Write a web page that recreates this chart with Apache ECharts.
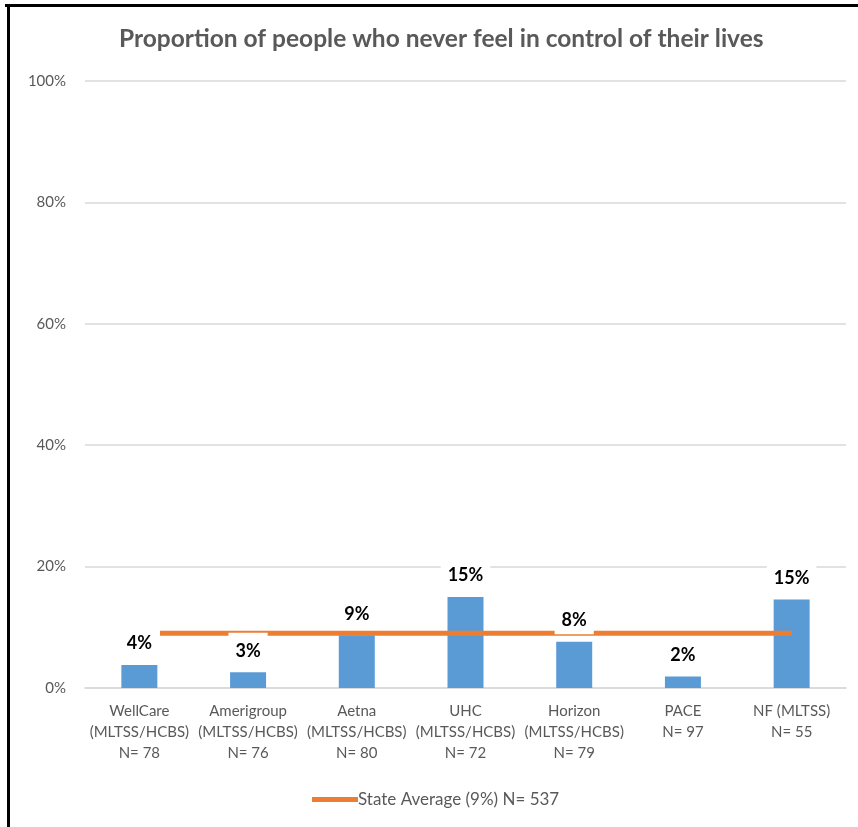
<!DOCTYPE html>
<html>
<head>
<meta charset="utf-8">
<script src="https://cdn.jsdelivr.net/npm/echarts@6/dist/echarts.min.js"></script>
<style>html,body{margin:0;padding:0;background:#fff;}#c{width:858px;height:827px;}</style>
</head>
<body>
<div id="c"></div>
<script>
const categories = [
  'WellCare\n(MLTSS/HCBS)\nN= 78',
  'Amerigroup\n(MLTSS/HCBS)\nN= 76',
  'Aetna\n(MLTSS/HCBS)\nN= 80',
  'UHC\n(MLTSS/HCBS)\nN= 72',
  'Horizon\n(MLTSS/HCBS)\nN= 79',
  'PACE\nN= 97',
  'NF (MLTSS)\nN= 55'
];
const values = [3.8, 2.6, 8.7, 15.0, 7.6, 1.9, 14.6];
const stateAverage = 9;
const stateAverageSpan = [0.69, 6.5];
const yTicks = [0, 20, 40, 60, 80, 100];
const titleText = 'Proportion of people who never feel in control of their lives';
const lineName = 'State Average (9%) N= 537';

const FONT = 'Lato, "Open Sans", sans-serif';
const chart = echarts.init(document.getElementById('c'));
chart.setOption({
  animation: false,
  backgroundColor: '#fff',
  textStyle: { fontFamily: FONT },
  title: {
    text: titleText, left: 114, top: 22,
    textStyle: { fontFamily: FONT, fontSize: 24.5, fontWeight: 'bold', color: '#595959' }
  },
  legend: {
    data: [lineName], left: 307, top: 786,
    icon: 'rect', itemWidth: 46, itemHeight: 5, itemGap: 0,
    textStyle: { fontFamily: FONT, fontSize: 17, color: '#595959', padding: [0, 0, 0, -5] }
  },
  grid: { left: 85, right: 12, top: 81, bottom: 139 },
  xAxis: [
    {
      type: 'category', data: categories,
      axisLine: { lineStyle: { color: '#d9d9d9', width: 1.5 } },
      axisTick: { show: false },
      axisLabel: { color: '#595959', fontSize: 15, lineHeight: 21, margin: 13, fontFamily: FONT, interval: 0 }
    },
    { type: 'value', min: 0, max: 7, show: false }
  ],
  yAxis: {
    type: 'value', min: yTicks[0], max: yTicks[yTicks.length - 1], interval: 20,
    axisLine: { show: false }, axisTick: { show: false },
    axisLabel: { formatter: '{value}%', color: '#595959', fontSize: 15, margin: 19, fontFamily: FONT },
    splitLine: { lineStyle: { color: '#d9d9d9', width: 1.5 } }
  },
  series: [
    {
      name: 'Proportion', type: 'bar', data: values, barWidth: 36, z: 1,
      itemStyle: { color: '#5B9BD5' }
    },
    {
      name: lineName, type: 'line', xAxisIndex: 1, z: 2,
      data: stateAverageSpan.map(x => [x, stateAverage]),
      symbol: 'none', lineStyle: { color: '#ED7D31', width: 5 }, itemStyle: { color: '#ED7D31' }
    },
    {
      name: 'labels', type: 'bar', data: values, barWidth: 36, barGap: '-100%', z: 3,
      itemStyle: { color: 'rgba(0,0,0,0)' },
      label: {
        show: true, position: 'top', distance: 7.5,
        formatter: p => Math.round(p.value) + '%',
        fontFamily: FONT, fontSize: 18, fontWeight: 'bold', color: '#000',
        backgroundColor: '#fff', padding: [7, 7, 3, 7], lineHeight: 22
      }
    }
  ],
  graphic: [
    { type: 'line', shape: { x1: 5, y1: 5.5, x2: 858, y2: 5.5 }, style: { stroke: '#000', lineWidth: 3 }, z: 100 },
    { type: 'line', shape: { x1: 8.5, y1: 4, x2: 8.5, y2: 827 }, style: { stroke: '#000', lineWidth: 3 }, z: 100 }
  ]
});
</script>
</body>
</html>
